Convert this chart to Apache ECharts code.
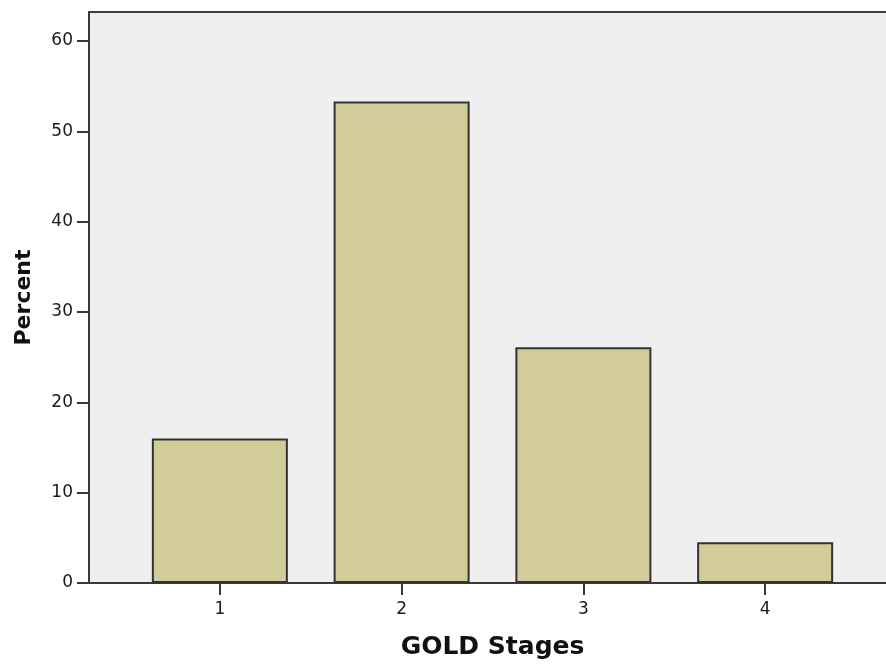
<!DOCTYPE html>
<html>
<head>
<meta charset="utf-8">
<script src="https://cdn.jsdelivr.net/npm/echarts@6/dist/echarts.min.js"></script>
<style>
html,body{margin:0;padding:0;background:#fff;}
#chart{width:886px;height:668px;}
</style>
</head>
<body>
<div id="chart"></div>
<script>
const categories = [1, 2, 3, 4];
const percentValues = [16.0, 53.3, 26.1, 4.5];
const yTickValues = [0, 10, 20, 30, 40, 50, 60];
const xAxisTitle = 'GOLD Stages';
const yAxisTitle = 'Percent';

const chart = echarts.init(document.getElementById('chart'), null, {renderer: 'canvas'});
const barData = categories.map((c, i) => [c, percentValues[i]]);

chart.setOption({
  backgroundColor: '#ffffff',
  animation: false,
  grid: {
    left: 89, top: 12, width: 807, height: 571,
    outerBoundsMode: 'none',
    containLabel: false,
    show: true,
    backgroundColor: '#efefef',
    borderColor: '#3a3a3a',
    borderWidth: 2
  },
  xAxis: {
    type: 'value',
    min: 0.28, max: 4.72,
    name: xAxisTitle,
    nameLocation: 'middle',
    nameGap: 52,
    nameTextStyle: {fontFamily: 'DejaVu Sans', fontWeight: 'bold', fontSize: 25, color: '#111'},
    splitLine: {show: false},
    axisLine: {show: true, onZero: false, lineStyle: {color: '#3a3a3a', width: 2}},
    axisTick: {show: true, length: 12, customValues: categories, lineStyle: {color: '#3a3a3a', width: 2}},
    axisLabel: {customValues: categories, margin: 18, fontFamily: 'DejaVu Sans', fontSize: 17, color: '#1a1a1a'}
  },
  yAxis: {
    type: 'value',
    min: 0, max: 63.2,
    name: yAxisTitle,
    nameLocation: 'middle',
    nameGap: 54,
    nameRotate: 90,
    nameTextStyle: {fontFamily: 'DejaVu Sans', fontWeight: 'bold', fontSize: 22, color: '#111'},
    splitLine: {show: false},
    axisLine: {show: true, lineStyle: {color: '#3a3a3a', width: 2}},
    axisTick: {show: true, length: 12, customValues: yTickValues, lineStyle: {color: '#3a3a3a', width: 2}},
    axisLabel: {customValues: yTickValues, margin: 16, fontFamily: 'DejaVu Sans', fontSize: 17, color: '#1a1a1a'}
  },
  series: [{
    type: 'bar',
    data: barData,
    barWidth: 136,
    itemStyle: {color: '#d2cd98', borderColor: '#333333', borderWidth: 2}
  }]
});
</script>
</body>
</html>
